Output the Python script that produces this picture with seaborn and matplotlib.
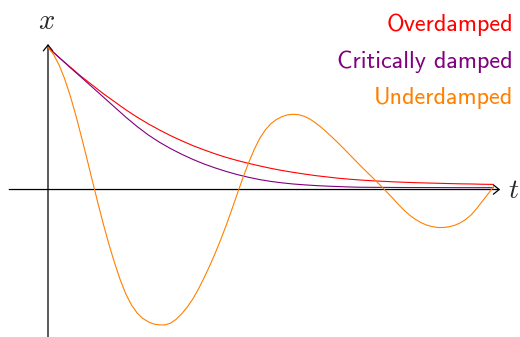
import matplotlib
matplotlib.use("Agg")
import matplotlib.pyplot as plt
import pandas as pd
import seaborn as sns

# Displacement x(t) of a damped oscillator for three damping regimes (dimensionless time)
t_mid = [0.0, 0.25, 0.5, 0.75, 1.0, 1.25, 1.5, 1.75, 2.0, 2.25, 2.5, 2.75, 3.0, 3.25,
         3.5, 3.75, 4.0, 4.25, 4.5, 4.75, 5.0, 5.25, 5.5, 5.75, 6.0, 6.25, 6.5, 6.75,
         7.0, 7.25, 7.5, 7.75, 8.0, 8.25, 8.5, 8.75, 9.0, 9.25, 9.5, 9.75, 10.0]
overdamped = [1.0, 0.928, 0.861, 0.794, 0.733, 0.672, 0.616, 0.56, 0.509, 0.462, 0.419,
              0.379, 0.343, 0.309, 0.279, 0.251, 0.226, 0.204, 0.184, 0.166, 0.149,
              0.134, 0.121, 0.109, 0.098, 0.089, 0.08, 0.073, 0.067, 0.062, 0.058,
              0.054, 0.051, 0.048, 0.046, 0.044, 0.042, 0.04, 0.039, 0.037, 0.036]
critically_damped = [1.0, 0.928, 0.857, 0.788, 0.718, 0.648, 0.578, 0.508, 0.443, 0.384,
                     0.333, 0.288, 0.248, 0.212, 0.18, 0.152, 0.127, 0.105, 0.086, 0.07,
                     0.057, 0.047, 0.039, 0.033, 0.028, 0.024, 0.021, 0.018, 0.016,
                     0.0155, 0.015, 0.0145, 0.014, 0.014, 0.0138, 0.0135, 0.0133, 0.013,
                     0.013, 0.013, 0.013]

t_fine = [0.0, 0.125, 0.25, 0.375, 0.5, 0.625, 0.75, 0.875, 1.0, 1.125, 1.25, 1.375,
          1.5, 1.625, 1.75, 1.875, 2.0, 2.125, 2.25, 2.375, 2.5, 2.625, 2.75, 2.875,
          3.0, 3.125, 3.25, 3.375, 3.5, 3.625, 3.75, 3.875, 4.0, 4.125, 4.25, 4.375,
          4.5, 4.625, 4.75, 4.875, 5.0, 5.125, 5.25, 5.375, 5.5, 5.625, 5.75, 5.875,
          6.0, 6.125, 6.25, 6.375, 6.5, 6.625, 6.75, 6.875, 7.0, 7.125, 7.25, 7.375,
          7.5, 7.625, 7.75, 7.875, 8.0, 8.125, 8.25, 8.375, 8.5, 8.625, 8.75, 8.875,
          9.0, 9.125, 9.25, 9.375, 9.5, 9.625, 9.75, 9.875, 10.0]
underdamped = [1.0, 0.949, 0.875, 0.777, 0.658, 0.521, 0.371, 0.215, 0.056, -0.101,
               -0.252, -0.393, -0.522, -0.638, -0.737, -0.812, -0.868, -0.906, -0.93,
               -0.946, -0.952, -0.952, -0.94, -0.913, -0.874, -0.827, -0.77, -0.701,
               -0.623, -0.54, -0.45, -0.354, -0.252, -0.142, -0.029, 0.082, 0.186,
               0.279, 0.358, 0.418, 0.462, 0.492, 0.512, 0.525, 0.529, 0.526, 0.515,
               0.496, 0.47, 0.439, 0.405, 0.369, 0.331, 0.292, 0.252, 0.212, 0.172,
               0.133, 0.095, 0.056, 0.017, -0.024, -0.065, -0.108, -0.148, -0.182,
               -0.21, -0.233, -0.25, -0.261, -0.267, -0.267, -0.262, -0.252, -0.235,
               -0.211, -0.178, -0.133, -0.082, -0.032, 0.02]

series_names = ["Overdamped", "Critically damped", "Underdamped"]
series_colors = ["#ff0000", "#800080", "#ff8000"]

frames = [
    pd.DataFrame({"t": t_mid, "x": overdamped, "regime": series_names[0]}),
    pd.DataFrame({"t": t_mid, "x": critically_damped, "regime": series_names[1]}),
    pd.DataFrame({"t": t_fine, "x": underdamped, "regime": series_names[2]}),
]
data = pd.concat(frames, ignore_index=True)

sns.set_theme(style="white")
plt.rcParams["mathtext.fontset"] = "cm"

W, H = 520, 337
XLIM = (-1.0775, 10.595)
YLIM = (-1.037, 1.3326)

fig = plt.figure(figsize=(W / 100, H / 100), dpi=100)
ax = fig.add_axes([0, 0, 1, 1])
ax.axis("off")

# Coordinate axes with open arrow heads
arrow = dict(arrowstyle="->,head_length=0.35,head_width=0.28", color="black",
             lw=0.9, shrinkA=0, shrinkB=0)
ax.annotate("", xy=(10.15, 0), xytext=(-0.87, 0), arrowprops=arrow,
            annotation_clip=False, zorder=1)
ax.annotate("", xy=(0, 1.023), xytext=(0, -1.05), arrowprops=arrow,
            annotation_clip=False, zorder=1)

sns.lineplot(data=data, x="t", y="x", hue="regime", hue_order=series_names,
             palette=series_colors, estimator=None, sort=False, legend=False,
             linewidth=0.8, ax=ax, zorder=3)
ax.set_xlim(*XLIM)
ax.set_ylim(*YLIM)
ax.axis("off")

# Regime labels stacked at top right
for name, color, base in zip(series_names, series_colors, [30.7, 67.7, 104.0]):
    fig.text(513 / W, 1 - base / H, name, color=color, ha="right", va="baseline",
             fontsize=17.4, family="cmss10")

# Axis names
fig.text(46.5 / W, 1 - 29.3 / H, r"$x$", ha="center", va="baseline", fontsize=20.5)
fig.text(507.5 / W, 1 - 198.5 / H, r"$t$", ha="left", va="baseline", fontsize=20)

fig.savefig("out.png", dpi=100)
